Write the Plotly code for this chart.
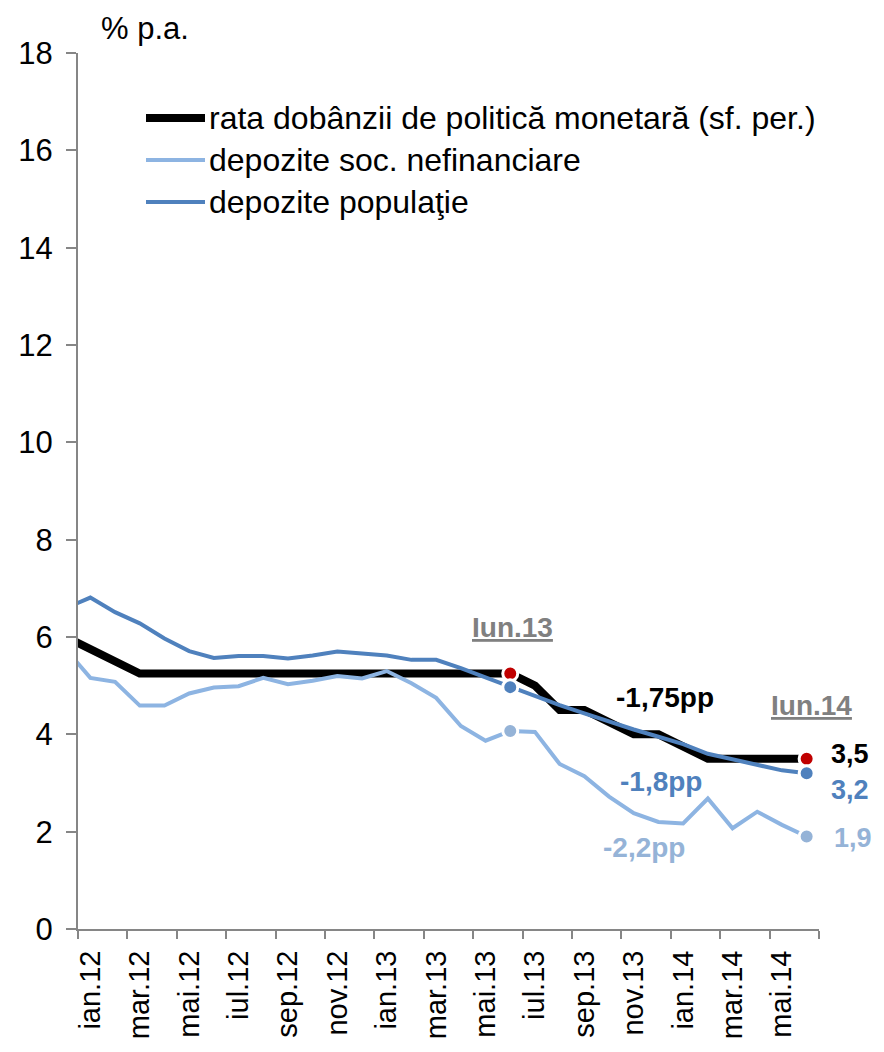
import plotly.graph_objects as go

# Monthly categories; the series start one month earlier (dec.11) so the
# lines run in from the left edge of the axis.
months = ["dec.11",
          "ian.12", "feb.12", "mar.12", "apr.12", "mai.12", "iun.12",
          "iul.12", "aug.12", "sep.12", "oct.12", "nov.12", "dec.12",
          "ian.13", "feb.13", "mar.13", "apr.13", "mai.13", "iun.13",
          "iul.13", "aug.13", "sep.13", "oct.13", "nov.13", "dec.13",
          "ian.14", "feb.14", "mar.14", "apr.14", "mai.14", "iun.14"]

policy_rate = [6.00,
               5.75, 5.50, 5.25, 5.25, 5.25, 5.25,
               5.25, 5.25, 5.25, 5.25, 5.25, 5.25,
               5.25, 5.25, 5.25, 5.25, 5.25, 5.25,
               5.00, 4.50, 4.50, 4.25, 4.00, 4.00,
               3.75, 3.50, 3.50, 3.50, 3.50, 3.50]

dep_companies = [5.75,
                 5.16, 5.08, 4.59, 4.59, 4.84, 4.96,
                 4.99, 5.16, 5.03, 5.10, 5.20, 5.15,
                 5.30, 5.05, 4.75, 4.17, 3.87, 4.07,
                 4.05, 3.39, 3.14, 2.72, 2.38, 2.20,
                 2.17, 2.68, 2.07, 2.41, 2.14, 1.90]

dep_households = [6.59,
                  6.81, 6.51, 6.28, 5.97, 5.71, 5.57,
                  5.61, 5.61, 5.56, 5.62, 5.70, 5.66,
                  5.62, 5.53, 5.53, 5.36, 5.17, 4.97,
                  4.78, 4.60, 4.43, 4.26, 4.10, 3.95,
                  3.80, 3.60, 3.48, 3.36, 3.26, 3.20]

series_names = ["rata dobânzii de politică monetară (sf. per.)",
                "depozite soc. nefinanciare",
                "depozite populaţie"]

y_ticks = [0, 2, 4, 6, 8, 10, 12, 14, 16, 18]

FONT = "Liberation Sans, Arial, sans-serif"
BLACK = "#000000"
LIGHT = "#8DB4E2"
LIGHT_DOT = "#95B3D7"
BLUE = "#4F81BD"
RED = "#C00000"
AXIS = "#868686"

W, H = 884, 1052
L, R, T, B = 78, 65, 53, 123

# numeric positions: dec.11 -> -1, ian.12 -> 0, ..., iun.14 -> 29
xs = list(range(-1, len(months) - 1))
i_start = months.index("iun.13")
i_end = months.index("iun.14")
tick_pos = [xs[k] for k in range(1, len(months)) if xs[k] % 2 == 0]
tick_txt = [months[k] for k in range(1, len(months)) if xs[k] % 2 == 0]


def px(x, y):
    """pixel position on the page -> paper coordinates"""
    return (x - L) / (W - L - R), (H - B - y) / (H - T - B)


def fmt(v, nd=1):
    return f"{v:.{nd}f}".replace(".", ",")


fig = go.Figure()

for ys, col, wd in [(policy_rate, BLACK, 8),
                    (dep_companies, LIGHT, 4),
                    (dep_households, BLUE, 4)]:
    fig.add_trace(go.Scatter(x=xs, y=ys, mode="lines",
                             line=dict(color=col, width=wd),
                             showlegend=False, hoverinfo="skip"))

# highlighted start / end points
for ys, col in [(policy_rate, RED), (dep_households, BLUE),
                (dep_companies, LIGHT_DOT)]:
    fig.add_trace(go.Scatter(
        x=[xs[i_start], xs[i_end]], y=[ys[i_start], ys[i_end]],
        mode="markers", showlegend=False, hoverinfo="skip",
        marker=dict(size=15, color=col, line=dict(color="white", width=3))))

ann = []


def text(x, y, s, size=28, color=BLACK, xanchor="center", yanchor="middle"):
    ann.append(dict(x=x, y=y, xref="paper", yref="paper",
                    text=s, showarrow=False, xanchor=xanchor,
                    yanchor=yanchor,
                    font=dict(family=FONT, size=size, color=color)))


# unit label
x0, y0 = px(145, 28)
text(x0, y0, "% p.a.", size=31)

# period markers
x0, y0 = px(512, 627)
text(x0, y0, "<b><u>Iun.13</u></b>", size=28, color="#808080")
x0, y0 = px(811, 705)
text(x0, y0, "<b><u>Iun.14</u></b>", size=28, color="#808080")

# changes over the period
d_pol = policy_rate[i_end] - policy_rate[i_start]
d_hh = dep_households[i_end] - dep_households[i_start]
d_co = dep_companies[i_end] - dep_companies[i_start]
x0, y0 = px(665, 697)
text(x0, y0, f"<b>{fmt(d_pol, 2)}pp</b>", size=28, color=BLACK)
x0, y0 = px(661, 781)
text(x0, y0, f"<b>{fmt(d_hh)}pp</b>", size=28, color=BLUE)
x0, y0 = px(644, 847)
text(x0, y0, f"<b>{fmt(d_co)}pp</b>", size=28, color=LIGHT_DOT)

# end values
x0, y0 = px(829, 771)
text(x0, y0, f"<b>{fmt(policy_rate[i_end])}</b>", size=27, color=BLACK,
     xanchor="left", yanchor="bottom")
x0, y0 = px(829, 773)
text(x0, y0, f"<b>{fmt(dep_households[i_end])}</b>", size=27, color=BLUE,
     xanchor="left", yanchor="top")
x0, y0 = px(832, 838)
text(x0, y0, f"<b>{fmt(dep_companies[i_end])}</b>", size=27,
     color=LIGHT_DOT, xanchor="left")

# legend
shapes = []
for row, (name, col, wd) in enumerate(zip(series_names,
                                         [BLACK, LIGHT, BLUE],
                                         [8, 4, 4])):
    yy = 118 + 42 * row
    xa, ya = px(146, yy)
    xb, _ = px(205, yy)
    shapes.append(dict(type="line", xref="paper", yref="paper",
                       x0=xa, x1=xb, y0=ya, y1=ya,
                       line=dict(color=col, width=wd)))
    xt, yt = px(207, yy)
    text(xt, yt, name, size=32, xanchor="left")

fig.update_layout(
    width=W, height=H,
    margin=dict(l=L, r=R, t=T, b=B, pad=0, autoexpand=False),
    paper_bgcolor="white", plot_bgcolor="white",
    font=dict(family=FONT, size=30, color=BLACK),
    annotations=ann, shapes=shapes,
    xaxis=dict(range=[-0.5, 29.5], tickmode="array", tickvals=tick_pos,
               ticktext=tick_txt, tickangle=-90, ticks="",
               tickfont=dict(size=29, color=BLACK, family=FONT),
               ticklabelstandoff=8, automargin=False,
               showline=True, linecolor=AXIS, linewidth=2,
               showgrid=False, zeroline=False,
               minor=dict(tickmode="linear", tick0=-0.5, dtick=2,
                          ticks="outside", ticklen=8, tickwidth=2,
                          tickcolor=AXIS, showgrid=False)),
    yaxis=dict(range=[0, 18], tickmode="array", tickvals=y_ticks,
               ticks="outside", ticklen=10, tickwidth=2, tickcolor=AXIS,
               tickfont=dict(size=31, color=BLACK, family=FONT),
               ticklabelstandoff=7, automargin=False,
               showline=True, linecolor=AXIS, linewidth=2,
               showgrid=False, zeroline=False),
)

fig.write_html("out.html")
